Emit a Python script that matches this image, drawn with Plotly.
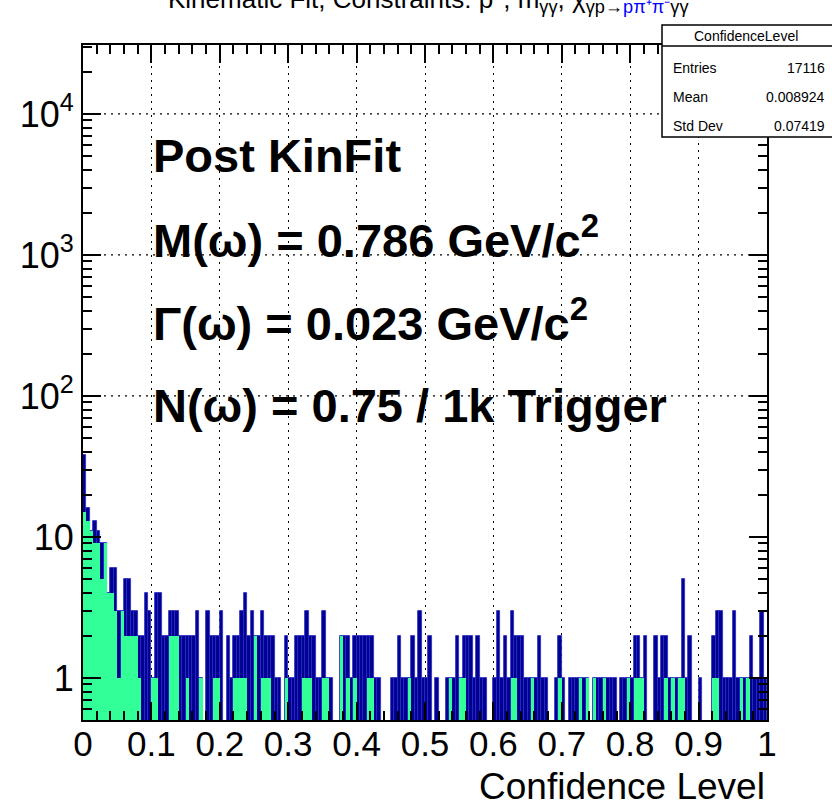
import plotly.graph_objects as go

# ---------------- data ----------------
bin_width = 0.005
x_min, x_max = 0.0, 1.0

blue_counts = [
    38, 16, 11, 13, 11, 9, 9, 4, 6, 6,
    3, 3, 5, 5, 3, 3, 2, 2, 4, 3,
    1, 4, 4, 2, 2, 3, 3, 3, 2, 2,
    2, 2, 2, 3, 1, 0, 3, 2, 2, 2,
    3, 0, 2, 1, 2, 2, 3, 4, 2, 3,
    2, 2, 3, 2, 2, 2, 1, 1, 0, 2,
    1, 1, 2, 2, 2, 3, 2, 2, 1, 1,
    3, 1, 1, 0, 0, 2, 2, 2, 1, 2,
    2, 2, 2, 2, 2, 1, 1, 0, 0, 0,
    1, 1, 2, 1, 1, 1, 2, 1, 3, 1,
    1, 2, 0, 1, 0, 0, 1, 1, 1, 2,
    1, 2, 2, 2, 1, 2, 1, 1, 0, 0,
    1, 3, 1, 2, 1, 3, 2, 2, 2, 1,
    1, 1, 1, 2, 1, 1, 0, 0, 1, 2,
    1, 0, 1, 1, 1, 1, 1, 1, 0, 1,
    1, 1, 1, 1, 1, 1, 0, 1, 1, 1,
    1, 2, 2, 1, 2, 0, 0, 2, 1, 2,
    2, 1, 1, 1, 1, 5, 1, 2, 0, 0,
    1, 0, 0, 0, 2, 3, 3, 1, 1, 1,
    3, 1, 1, 1, 1, 2, 1, 1, 3, 1,
]

green_counts = [
    15, 13, 11, 9, 9, 5, 9, 4, 4, 3,
    1, 3, 2, 2, 2, 2, 1, 0, 0, 0,
    1, 1, 0, 0, 0, 2, 2, 2, 0, 0,
    1, 0, 0, 0, 1, 0, 0, 0, 1, 1,
    0, 0, 0, 0, 1, 1, 1, 1, 0, 0,
    2, 0, 1, 1, 1, 0, 0, 0, 0, 1,
    0, 0, 0, 0, 1, 1, 1, 0, 0, 0,
    1, 1, 0, 0, 0, 2, 0, 1, 0, 1,
    0, 0, 0, 1, 1, 0, 0, 0, 0, 0,
    0, 0, 0, 0, 0, 1, 0, 0, 0, 0,
    0, 0, 0, 0, 0, 0, 0, 1, 0, 0,
    1, 1, 0, 0, 0, 0, 0, 0, 0, 0,
    0, 0, 0, 0, 0, 1, 1, 0, 0, 0,
    0, 1, 0, 0, 0, 0, 0, 0, 0, 1,
    0, 0, 0, 0, 0, 1, 0, 1, 0, 1,
    0, 0, 1, 0, 0, 0, 0, 0, 0, 1,
    0, 1, 1, 1, 0, 0, 0, 0, 0, 0,
    1, 0, 1, 0, 1, 1, 0, 0, 0, 0,
    0, 0, 0, 0, 1, 1, 0, 0, 0, 0,
    0, 0, 1, 0, 1, 0, 0, 0, 0, 0,
]

x_tick_vals = [0, 0.1, 0.2, 0.3, 0.4, 0.5, 0.6, 0.7, 0.8, 0.9, 1.0]
x_tick_text = ["0", "0.1", "0.2", "0.3", "0.4", "0.5", "0.6", "0.7", "0.8", "0.9", "1"]
y_tick_vals = [1, 10, 100, 1000, 10000]
y_tick_text = ["1", "10", "10<sup>2</sup>", "10<sup>3</sup>", "10<sup>4</sup>"]
y_grid_vals = [100, 1000, 10000]

stats_title = "ConfidenceLevel"
stats_rows = [("Entries", "17116"), ("Mean", "0.008924"), ("Std Dev", "0.07419")]

info_lines = [
    "<b>Post KinFit</b>",
    "<b>M(ω) = 0.786 GeV/c<sup>2</sup></b>",
    "<b>Γ(ω) = 0.023 GeV/c<sup>2</sup></b>",
    "<b>N(ω) = 0.75 / 1k Trigger</b>",
]

# ---------------- figure ----------------
n_bins = len(blue_counts)
centers = [x_min + (i + 0.5) * bin_width for i in range(n_bins)]
blue_y = [v if v > 0 else None for v in blue_counts]
green_y = [v if v > 0 else None for v in green_counts]

FONT = "Liberation Sans, Arial, Helvetica, sans-serif"
GRID_DASH = "2px,5px"

fig = go.Figure()
fig.add_trace(go.Bar(
    x=centers, y=blue_y, width=bin_width,
    marker=dict(color="#000090", line=dict(color="#2828c8", width=0.8)),
    hoverinfo="skip",
))
fig.add_trace(go.Bar(
    x=centers, y=green_y, width=bin_width,
    marker=dict(color="#33ff99", line=dict(width=0)),
    hoverinfo="skip",
))

W, H = 832, 806
L, R, T, B = 83, 65, 45, 86
plot_h = H - T - B

def py(p):
    # pixel row -> paper y
    return (H - B - p) / plot_h

def px(p):
    return (p - L) / (W - L - R)

minor_y = [m * 10 ** d for d in range(-1, 5) for m in range(2, 10)]

fig.update_layout(
    width=W, height=H,
    margin=dict(l=L, r=R, t=T, b=B),
    plot_bgcolor="white", paper_bgcolor="white",
    barmode="overlay", bargap=0, showlegend=False,
    font=dict(family=FONT, color="black"),
    xaxis=dict(
        range=[x_min, x_max], tickmode="array", tickvals=x_tick_vals, ticktext=x_tick_text,
        ticks="inside", ticklen=18, tickwidth=1.5, tickcolor="black",
        mirror="allticks", showline=True, linewidth=2, linecolor="black",
        showgrid=True, gridcolor="black", griddash=GRID_DASH, gridwidth=1.2,
        zeroline=False, ticklabelstandoff=-8,
        tickfont=dict(size=35, family=FONT, color="black"),
        minor=dict(tickmode="linear", tick0=0, dtick=0.02, ticks="inside", ticklen=9,
                   tickwidth=1.5, tickcolor="black", showgrid=False),
    ),
    yaxis=dict(
        type="log", range=[-0.298, 4.489], tickmode="array",
        tickvals=y_tick_vals, ticktext=y_tick_text,
        ticks="inside", ticklen=18, tickwidth=1.5, tickcolor="black",
        mirror="allticks", showline=True, linewidth=2, linecolor="black",
        showgrid=False, zeroline=False,
        tickfont=dict(size=36, family=FONT, color="black"),
        minor=dict(tickmode="array", tickvals=minor_y, ticks="inside", ticklen=9,
                   tickwidth=1.5, tickcolor="black", showgrid=False),
    ),
)

# horizontal dotted grid lines
for gv in y_grid_vals:
    fig.add_shape(type="line", xref="paper", yref="y", x0=0, x1=1, y0=gv, y1=gv,
                  line=dict(color="black", width=1.2, dash=GRID_DASH), layer="below")

# big info text
for txt, prow in zip(info_lines, [155, 237, 320, 405]):
    fig.add_annotation(text=txt, xref="paper", yref="paper", x=px(151), y=py(prow),
                       xanchor="left", yanchor="middle", showarrow=False,
                       font=dict(size=47, family=FONT, color="black"))

# x-axis title
fig.add_annotation(text="Confidence Level", xref="paper", yref="paper", x=1.0, y=py(787),
                   xanchor="right", yanchor="middle", showarrow=False,
                   font=dict(size=37, family=FONT, color="black"))

# clipped title at top
fig.add_annotation(
    text="Kinematic Fit, Constraints: p<sup>4</sup>, m<sub>γγ</sub>, χ<sub>γp→<span style='color:#0000ff'>pπ⁺π⁻</span>γγ</sub>",
    xref="paper", yref="paper", x=px(428), y=py(-1), xanchor="center", yanchor="middle",
    showarrow=False, font=dict(size=26, family=FONT, color="black"))

# stats box
fig.add_shape(type="rect", xref="paper", yref="paper", x0=px(662), x1=px(845),
              y0=py(137), y1=py(25), line=dict(color="black", width=1.5),
              fillcolor="white", layer="above")
fig.add_shape(type="line", xref="paper", yref="paper", x0=px(662), x1=px(845),
              y0=py(46), y1=py(46), line=dict(color="black", width=1.5), layer="above")
fig.add_annotation(text=stats_title, xref="paper", yref="paper", x=px(746), y=py(36),
                   xanchor="center", yanchor="middle", showarrow=False,
                   font=dict(size=14, family=FONT, color="black"))
for (lab, val), prow in zip(stats_rows, [68, 97, 126]):
    fig.add_annotation(text=lab, xref="paper", yref="paper", x=px(671), y=py(prow),
                       xanchor="left", yanchor="middle", showarrow=False,
                       font=dict(size=14, family=FONT, color="black"))
    fig.add_annotation(text=val, xref="paper", yref="paper", x=px(827), y=py(prow),
                       xanchor="right", yanchor="middle", showarrow=False,
                       font=dict(size=14, family=FONT, color="black"))

fig.write_html("out.html")
